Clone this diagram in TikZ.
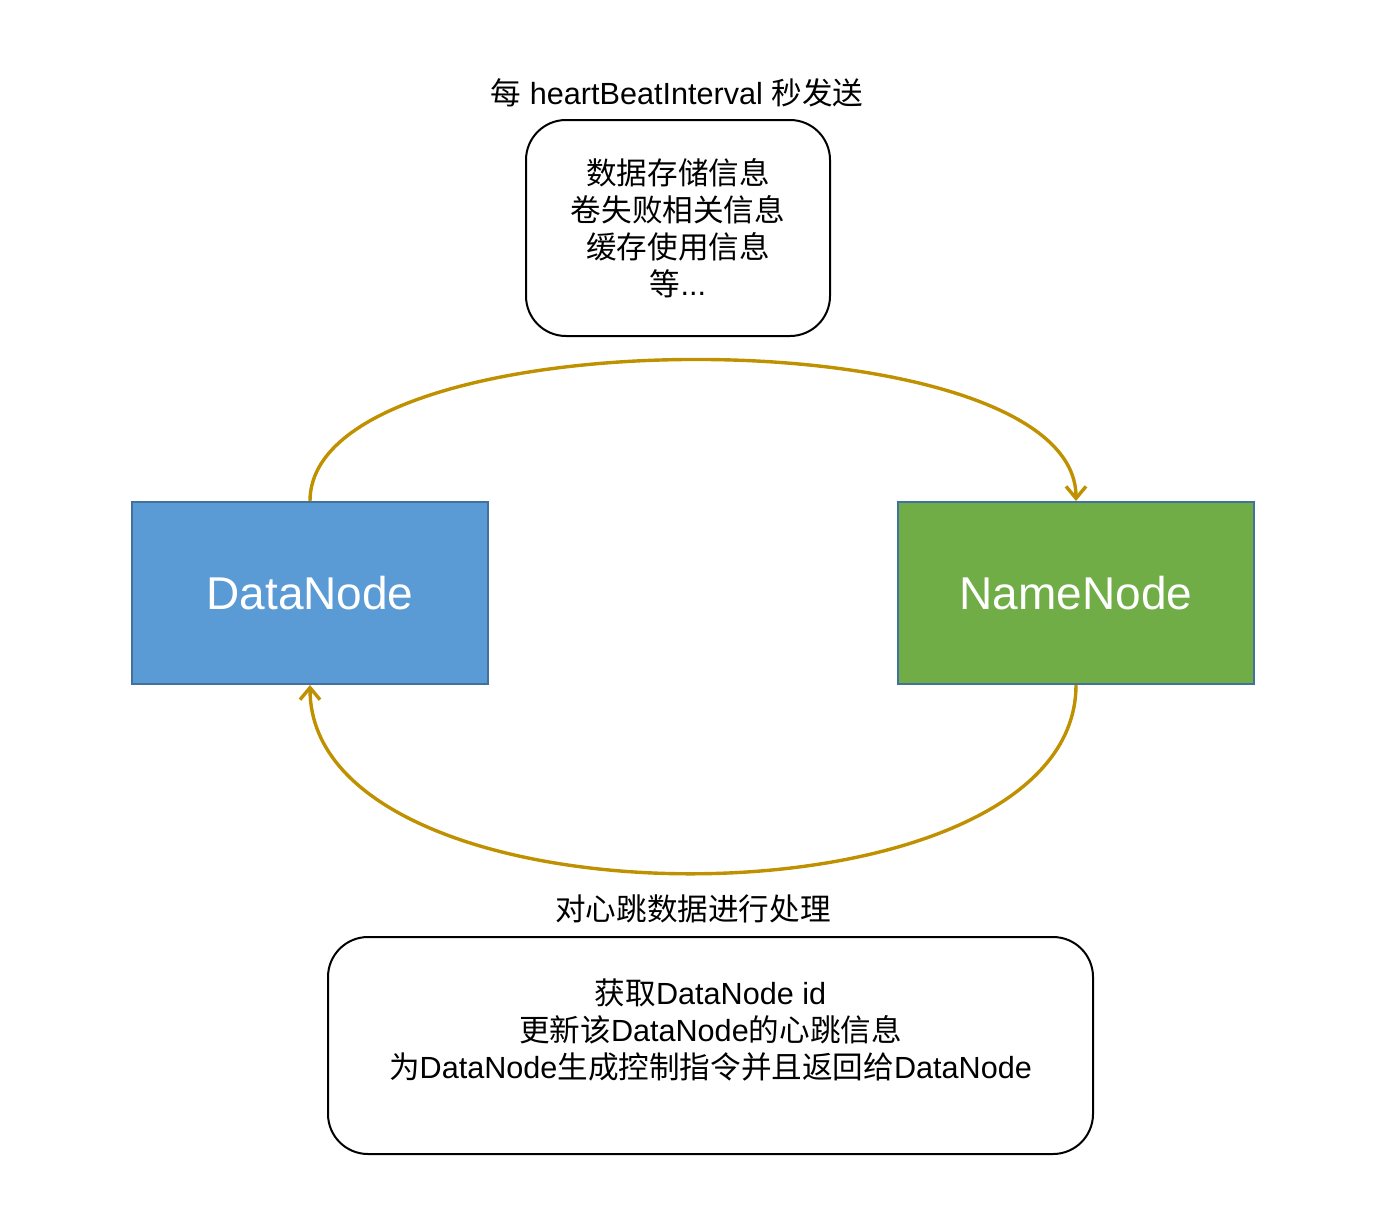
\documentclass[tikz,border=0pt]{standalone}
\usepackage{fontspec}
\setmainfont{Liberation Sans}
\newfontfamily\cjk{Noto Sans CJK SC}
\usetikzlibrary{arrows.meta,positioning}
\definecolor{dnfill}{HTML}{5B9BD5}
\definecolor{nnfill}{HTML}{70AD47}
\definecolor{boxline}{HTML}{41719C}
\definecolor{flowline}{HTML}{BF9000}
\newcommand{\zh}[1]{{\cjk #1}}

\begin{document}
\begin{tikzpicture}[x=0.5pt,y=-0.5pt,
    txt/.style={font=\fontsize{15.3}{18.5}\selectfont, align=center, inner sep=0pt},
    infobox/.style={draw=black, line width=1pt, rounded corners=20pt, txt},
    server/.style={draw=boxline, line width=1pt, minimum width=178pt, minimum height=91pt,
        text=white, font=\fontsize{23}{26}\selectfont},
    flow/.style={draw=flowline, line width=1.7pt, -{Straight Barb[length=6pt,width=10pt]}}]
\useasboundingbox (0,0) rectangle (1374,1210);
% the two servers
\node[server, fill=dnfill] (dn) at (310,593) {DataNode};
\node[server, fill=nnfill] (nn) at (1076,593) {NameNode};
% heartbeat sent by the DataNode
\node[infobox, minimum width=152pt, minimum height=108pt] (sendbox) at (678,228)
    {\zh{数据存储信息}\\ \zh{卷失败相关信息}\\ \zh{缓存使用信息}\\ \zh{等}...};
\node[txt] (sendlabel) at (677,93) {\zh{每} heartBeatInterval \zh{秒发送}};
% processing done by the NameNode
\node[infobox, minimum width=382.5pt, minimum height=108.5pt] (procbox) at (710.5,1045.5) {};
\node[txt] (proctext) at ([yshift=8pt]procbox.center)
    {\zh{获取}DataNode id\\ \zh{更新该}DataNode\zh{的心跳信息}\\ \zh{为}DataNode\zh{生成控制指令并且返回给}DataNode};
\node[txt] (proclabel) at (693,909) {\zh{对心跳数据进行处理}};
% the heartbeat loop
\draw[flow] (dn.north) .. controls (310,313) and (1076,313) .. (nn.north);
\draw[flow] (nn.south) .. controls (1076,936) and (310,936) .. (dn.south);
\end{tikzpicture}
\end{document}
